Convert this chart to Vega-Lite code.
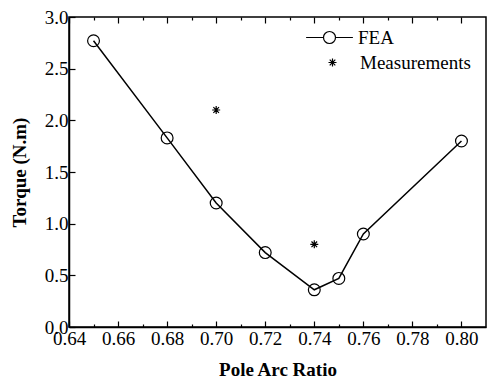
{
  "$schema": "https://vega.github.io/schema/vega-lite/v6.json",
  "autosize": {"type": "none"},
  "padding": {"left": 69, "top": 17, "right": 1, "bottom": 53},
  "width": 417,
  "height": 310,
  "background": "white",
  "config": {
    "font": "Liberation Serif",
    "view": {"stroke": "black", "strokeWidth": 1.5},
    "axis": {
      "labelFont": "Liberation Serif",
      "labelFontSize": 19,
      "labelColor": "black",
      "titleFont": "Liberation Serif",
      "titleFontSize": 19,
      "titleFontWeight": "bold",
      "titleColor": "black",
      "domainColor": "black",
      "domainWidth": 1.5,
      "tickColor": "black",
      "tickWidth": 1.2,
      "grid": false
    },
    "legend": {
      "labelFont": "Liberation Serif",
      "labelFontSize": 19,
      "labelColor": "black",
      "padding": 0
    }
  },
  "datasets": {
    "fea": [
      {"ratio": 0.65, "torque": 2.77, "series": "FEA"},
      {"ratio": 0.68, "torque": 1.83, "series": "FEA"},
      {"ratio": 0.70, "torque": 1.20, "series": "FEA"},
      {"ratio": 0.72, "torque": 0.72, "series": "FEA"},
      {"ratio": 0.74, "torque": 0.36, "series": "FEA"},
      {"ratio": 0.75, "torque": 0.47, "series": "FEA"},
      {"ratio": 0.76, "torque": 0.90, "series": "FEA"},
      {"ratio": 0.80, "torque": 1.80, "series": "FEA"}
    ],
    "meas": [
      {"ratio": 0.70, "torque": 2.10, "series": "Measurements"},
      {"ratio": 0.74, "torque": 0.80, "series": "Measurements"}
    ]
  },
  "layer": [
    {
      "data": {"name": "fea"},
      "mark": {"type": "line", "strokeWidth": 1.5},
      "encoding": {
        "x": {
          "field": "ratio", "type": "quantitative",
          "scale": {"domain": [0.64, 0.81], "nice": false, "zero": false},
          "axis": {
            "title": "Pole Arc Ratio",
            "values": [0.64,0.65,0.66,0.67,0.68,0.69,0.70,0.71,0.72,0.73,0.74,0.75,0.76,0.77,0.78,0.79,0.80],
            "labelExpr": "round(datum.value*100) % 2 == 0 ? format(datum.value, '.2f') : ''",
            "tickSize": {"condition": {"test": "round(datum.value*100) % 2 == 0", "value": -6}, "value": -3},
            "labelPadding": 8,
            "titlePadding": 9,
            "labelFlush": false,
            "labelOverlap": false
          }
        },
        "y": {
          "field": "torque", "type": "quantitative",
          "scale": {"domain": [0, 3], "nice": false},
          "axis": {
            "title": "Torque (N.m)",
            "values": [0,0.25,0.5,0.75,1,1.25,1.5,1.75,2,2.25,2.5,2.75,3],
            "labelExpr": "round(datum.value*4) % 2 == 0 ? format(datum.value, '.1f') : ''",
            "tickSize": {"condition": {"test": "round(datum.value*4) % 2 == 0", "value": -6}, "value": -3},
            "labelPadding": 7,
            "titlePadding": 15,
            "labelFlush": false,
            "labelOverlap": false
          }
        },
        "stroke": {
          "field": "series", "type": "nominal",
          "scale": {"domain": ["FEA"], "range": ["black"]},
          "legend": {
            "title": null,
            "orient": "none",
            "legendX": 251,
            "legendY": 11,
            "symbolType": "M-3.9,0L-1,0M1,0L3.9,0M-1,0A1,1 0 1,0 1,0A1,1 0 1,0 -1,0",
            "symbolSize": 144,
            "symbolStrokeWidth": 1.2,
            "symbolStrokeColor": "black",
            "symbolFillColor": "transparent",
            "labelOffset": 19
          }
        }
      }
    },
    {
      "data": {"name": "fea"},
      "mark": {"type": "point", "shape": "circle", "filled": false, "size": 140, "stroke": "black", "strokeWidth": 1.2, "opacity": 1},
      "encoding": {
        "x": {
          "field": "ratio", "type": "quantitative",
          "axis": {
            "orient": "top",
            "title": null,
            "labels": false,
            "domain": false,
            "values": [0.64,0.65,0.66,0.67,0.68,0.69,0.70,0.71,0.72,0.73,0.74,0.75,0.76,0.77,0.78,0.79,0.80],
            "tickSize": {"condition": {"test": "round(datum.value*100) % 2 == 0", "value": -6}, "value": -3}
          }
        },
        "y": {"field": "torque", "type": "quantitative"}
      }
    },
    {
      "data": {"name": "meas"},
      "mark": {"type": "point", "filled": false, "size": 64, "stroke": "black", "strokeWidth": 1.2, "opacity": 1},
      "encoding": {
        "x": {"field": "ratio", "type": "quantitative", "axis": null},
        "y": {"field": "torque", "type": "quantitative"},
        "shape": {
          "field": "series", "type": "nominal",
          "scale": {
            "domain": ["Measurements"],
            "range": ["M-1,0L1,0M0,-1L0,1M-0.7,-0.7L0.7,0.7M-0.7,0.7L0.7,-0.7"]
          },
          "legend": {
            "title": null,
            "orient": "none",
            "legendX": 254,
            "legendY": 36,
            "symbolSize": 64,
            "symbolStrokeWidth": 1.2,
            "symbolStrokeColor": "black",
            "labelOffset": 18
          }
        }
      }
    }
  ],
  "resolve": {"axis": {"x": "independent"}}
}
